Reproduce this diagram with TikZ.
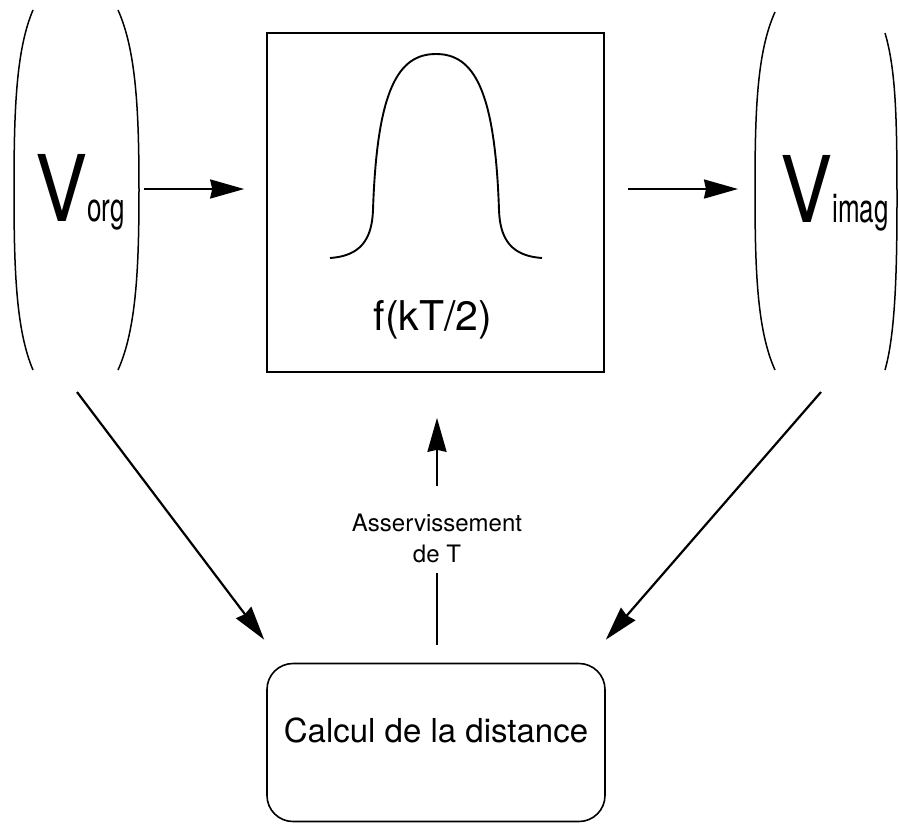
\documentclass[tikz,border=0pt]{standalone}
\usepackage{fontspec}
\setmainfont{TeX Gyre Heros}
\newfontfamily\vfont[FakeStretch=0.85]{TeX Gyre Heros}
\newfontfamily\subfont[FakeStretch=0.65]{TeX Gyre Heros}
\usetikzlibrary{arrows.meta, positioning, calc}

\begin{document}
\begin{tikzpicture}[x=1pt, y=-1pt,
    fbox/.style={draw, line width=1.6pt, minimum width=337pt, minimum height=339pt},
    dbox/.style={draw, line width=1.6pt, rounded corners=26pt, minimum width=338pt, minimum height=158pt,
      font=\fontsize{33}{33}\selectfont, text depth=25pt},
    paren/.style={line width=1.5pt},
    curve/.style={line width=1.9pt},
    vlbl/.style={inner sep=0pt, anchor=base west},
    arr/.style={-{Stealth[length=34pt, width=19pt, inset=2pt]}, line width=2.2pt},
    ln/.style={line width=2.2pt},
    lbl/.style={font=\fontsize{24}{31}\selectfont, align=center}]
  \useasboundingbox (0,0) rectangle (898,823);
  % filter box
  \node[fbox] (func) at (435.5,202.5) {};
  \draw[curve] (330,258) .. controls (360,256) and (372,240) .. (373,210)
    .. controls (377,90) and (398,54) .. (436,54)
    .. controls (474,54) and (495,90) .. (499,210)
    .. controls (500,240) and (512,256) .. (542,258);
  \node[font=\fontsize{41}{41}\selectfont, anchor=base] (fk) at (433,330) {f(kT/2)};
  % original and image vectors
  \node[vlbl] (vorg) at (35,221) {{\vfont\fontsize{92}{92}\selectfont V}{\subfont\fontsize{40}{40}\selectfont org}};
  \node[vlbl] (vimag) at (780,222) {{\vfont\fontsize{92}{92}\selectfont V}{\subfont\fontsize{40}{40}\selectfont imag}};
  \draw[paren] (33,10) .. controls (16,50) and (14,110) .. (14,190) .. controls (14,270) and (16,330) .. (33,370);
  \draw[paren] (118,10) .. controls (136,50) and (139,110) .. (139,190) .. controls (139,270) and (136,330) .. (118,370);
  \draw[paren] (775,12) .. controls (757,52) and (755,110) .. (755,190) .. controls (755,270) and (757,330) .. (775,370);
  \draw[paren] (885,33) .. controls (896,70) and (897,120) .. (897,200) .. controls (897,275) and (895,335) .. (885,370);
  % distance box
  \node[dbox] (dist) at (436,742.5) {Calcul de la distance};
  \node[lbl] (asserv) at (437,538) {Asservissement\\ de T};
  \coordinate (orgfoot) at (77,392);
  \coordinate (imagfoot) at (821,392);
  % arrows
  \draw[arr, shorten <=19pt, shorten >=22pt] (vorg.east |- 0,189) -- (func.west |- 0,189);
  \draw[arr, shorten <=23pt, shorten >=42pt] (func.east |- 0,189) -- (vimag.west |- 0,189);
  \draw[arr] (orgfoot) -- ($(dist.north west)+(-2,-23)$);
  \draw[arr] (imagfoot) -- ($(dist.north east)+(0,-23)$);
  \draw[ln, shorten <=18pt, shorten >=7pt] (dist.north -| asserv) -- (asserv.south);
  \draw[arr, shorten <=24pt, shorten >=45pt] (asserv.north) -- (asserv.north |- func.south);
\end{tikzpicture}
\end{document}
